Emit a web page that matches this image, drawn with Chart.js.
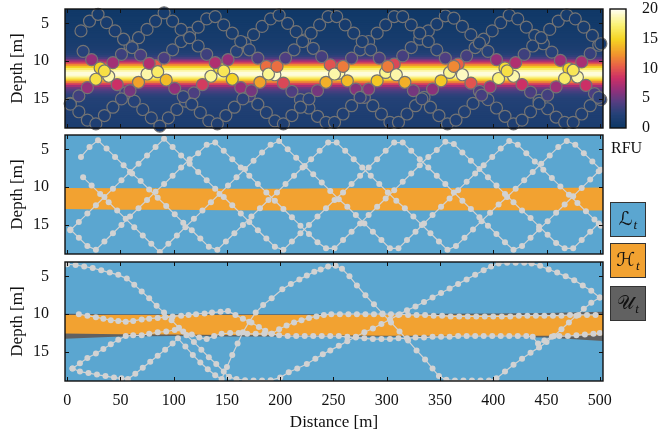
<!DOCTYPE html>
<html>
<head>
<meta charset="utf-8">
<script src="https://cdn.jsdelivr.net/npm/chart.js@4.4.1/dist/chart.umd.min.js"></script>
<style>
  body { margin: 0; width: 662px; height: 435px; position: relative; overflow: hidden; background: #fff;
         font-family: 'Liberation Serif', 'Times New Roman', serif; color: #111; }
  canvas { position: absolute; }
  .key { position: absolute; left: 610px; width: 36px; height: 35px; box-sizing: border-box;
         border: 1.4px solid #333; text-align: center; line-height: 31px; font-size: 19px; }
  .key .s { font-family: 'DejaVu Serif', 'DejaVu Sans', serif; }
  .key i { font-size: 13px; position: relative; top: 4px; margin-left: 1px; }
  #rfu { position: absolute; left: 611px; top: 139px; font-size: 16px; line-height: 18px; }
</style>
</head>
<body>
<canvas id="c1" width="662" height="140" style="left:0;top:0"></canvas>
<canvas id="c2" width="662" height="130" style="left:0;top:130px"></canvas>
<canvas id="c3" width="662" height="180" style="left:0;top:255px"></canvas>
<canvas id="c4" width="62" height="140" style="left:600px;top:0"></canvas>
<div id="rfu">RFU</div>
<div class="key" style="top:202px;background:#5ba6d0"><span class="s">ℒ</span><i>t</i></div>
<div class="key" style="top:243px;background:#f2a231"><span class="s">ℋ</span><i>t</i></div>
<div class="key" style="top:286px;background:#616161"><span class="s">𝒰</span><i>t</i></div>
<script>
// axes
const distanceTicks = [0, 50, 100, 150, 200, 250, 300, 350, 400, 450, 500];
const depthTicks = [5, 10, 15];
const rfuTicks = [0, 5, 10, 15, 20];

// yo-yo survey (panels 1 and 2): four vehicles
const distA = [13,21,29,37,45,53,61,69,77,85,93,101,109,117,125,133,141,149,157,165,173,181,189,197,205,213,221,229,237,245,253,261,269,277,285,293,301,309,317,325,333,341,349,357,365,373,381,389,397,405,413,421,429,437,445,453,461,469,477,485,493,501];
const depthA = [6.0,4.7,3.8,4.9,6.0,7.1,8.2,9.2,10.3,11.4,12.5,13.6,14.7,15.7,16.8,17.9,18.3,17.2,16.1,15.0,13.9,12.8,11.7,10.7,9.6,8.5,7.4,6.3,5.2,4.1,4.1,5.2,6.3,7.4,8.5,9.6,10.7,11.8,12.8,13.9,15.0,16.1,17.2,18.3,17.8,16.7,15.6,14.5,13.4,12.3,11.3,10.2,9.1,8.0,6.9,5.8,4.7,3.9,4.4,5.5,6.6,7.7];
const rfuA = [1.4,1.2,1.1,1.2,1.4,1.5,2.4,3.9,7.5,17,14,6.5,2.8,2.1,1.9,1.9,1.8,1.9,2.0,2.7,5.5,13,18,11,4.2,2.5,1.5,1.3,1.2,1.1,1.1,1.2,1.3,1.5,2.4,4.0,11.5,18.5,13.5,5.5,2.7,2.0,1.9,1.8,1.9,2.0,2.1,3.8,7,17.5,16,7.5,3.5,1.6,1.4,1.3,1.2,1.1,1.2,1.3,1.4,1.5];

const distBC = [3,11,19,27,35,43,51,59,67,75,83,91,99,107,115,123,131,139,147,155,163,171,179,187,195,203,211,219,227,235,243,251,259,267,275,283,291,299,307,315,323,331,339,347,355,363,371,379,387,395,403,411,419,427,435,443,451,459,467,475,483,491,499];
const depthB = [15.7,14.6,13.5,12.4,11.3,10.2,9.1,8.0,6.9,5.8,4.7,3.6,4.7,5.8,6.9,8.0,9.1,10.2,11.3,12.4,13.5,14.6,15.7,16.8,17.9,18.3,17.2,16.1,15.0,13.9,12.8,11.7,10.7,9.6,8.5,7.4,6.3,5.2,4.1,4.1,5.2,6.3,7.4,8.5,9.6,10.7,11.8,12.9,14.0,15.1,16.2,17.3,18.3,17.8,16.7,15.6,14.5,13.4,12.3,11.2,10.1,9.0,7.9];
const rfuB = [2.0,3.6,6.5,16,16,7,3.4,1.6,1.4,1.3,1.2,1.1,1.2,1.3,1.4,1.6,3.5,7.5,16.5,15,6.5,3.5,2.0,1.9,1.8,1.8,1.9,2.0,2.6,5.5,13.5,18.5,11.5,4.0,2.4,1.5,1.3,1.2,1.1,1.1,1.2,1.3,1.5,2.5,4.2,12,19,10,4.2,2.6,2.0,1.9,1.8,1.8,1.9,2.0,3.7,6.8,17,16.5,7.2,3.2,1.6];
const depthC = [15.6,16.7,17.8,18.3,17.2,16.1,15.0,13.9,12.8,11.7,10.6,9.6,8.5,7.4,6.3,5.5,4.4,4.1,5.2,6.3,7.4,8.5,9.6,10.7,11.8,12.9,14.0,15.1,16.2,17.3,18.1,18.1,17.0,15.9,14.8,13.7,12.6,11.5,10.4,9.3,8.2,7.1,6.0,5.1,4.0,4.3,5.4,6.5,7.6,8.7,9.8,10.9,12.0,13.1,14.1,15.2,16.3,17.4,18.1,18.1,17.0,15.9,14.8];
const rfuC = [2.0,1.9,1.8,1.8,1.9,2.0,2.7,5.5,13,18.5,10.5,4.0,2.5,1.5,1.3,1.2,1.1,1.1,1.2,1.3,1.5,2.4,4.1,11,19,9.5,4.2,2.6,2.0,1.9,1.8,1.8,1.9,2.0,2.8,6,14.5,18,9.5,3.8,2.3,1.5,1.3,1.2,1.1,1.1,1.2,1.4,1.5,2.5,6.5,15.5,18.5,8.5,4.0,2.6,2.0,1.9,1.8,1.8,1.9,2.0,2.8];

const distD = [15,23,31,39,47,55,63,71,79,87,95,103,111,119,127,135,143,151,159,167,175,183,191,199,207,215,223,231,239,247,255,263,271,279,287,295,303,311,319,327,335,343,351,359,367,375,383,391,399,407,415,423,431,439,447,455,463,471,479,487,495,501];
const depthD = [8.7,9.8,10.9,12.0,13.1,14.2,15.3,16.4,17.5,18.6,17.5,16.4,15.3,14.2,13.1,12.0,10.9,9.8,8.7,7.6,6.5,5.4,4.4,3.9,5.0,6.1,7.2,8.3,9.4,10.5,11.6,12.6,13.7,14.8,15.9,17.0,18.1,18.1,17.0,15.9,14.8,13.7,12.6,11.5,10.4,9.3,8.2,7.1,6.0,4.9,3.9,4.4,5.5,6.6,7.7,8.8,9.9,11.0,12.1,13.2,14.3,15.1];
const rfuD = [2.6,6.5,15,18.5,8.5,4.0,2.5,2.0,1.9,1.8,1.9,2.0,2.5,4.1,9,18,15.5,6.5,2.5,1.5,1.3,1.2,1.1,1.1,1.2,1.3,1.5,2.3,3.8,10,18.5,14,6,2.8,2.0,1.9,1.8,1.8,1.9,2.0,2.7,6.2,14.5,18,10.5,3.8,2.3,1.5,1.3,1.2,1.1,1.1,1.2,1.3,1.5,2.6,6.8,15,18.5,8.5,4.0,2.7];

// RFU field (panel 1), one value per depth row
const heatDepth = [3.125,3.375,3.625,3.875,4.125,4.375,4.625,4.875,5.125,5.375,5.625,5.875,6.125,6.375,6.625,6.875,7.125,7.375,7.625,7.875,8.125,8.375,8.625,8.875,9.125,9.375,9.625,9.875,10.125,10.375,10.625,10.875,11.125,11.375,11.625,11.875,12.125,12.375,12.625,12.875,13.125,13.375,13.625,13.875,14.125,14.375,14.625,14.875,15.125,15.375,15.625,15.875,16.125,16.375,16.625,16.875,17.125,17.375,17.625,17.875,18.125,18.375,18.625,18.875];
const heatRfu = [0.4,0.4,0.5,0.5,0.5,0.6,0.6,0.6,0.7,0.7,0.8,0.8,0.9,0.9,1.0,1.0,1.1,1.2,1.2,1.3,1.4,1.5,1.7,1.9,2.2,2.8,3.8,5.5,7.5,10,12.5,15,17,18.5,19.5,19.5,18.5,16.5,14,11.5,9,7,5.5,4.5,3.8,3.2,2.8,2.5,2.3,2.2,2.1,2.0,2.0,1.9,1.9,1.8,1.8,1.7,1.7,1.6,1.6,1.5,1.5,1.4];
const heatSpan = [-2, 503];

// region boundaries (panels 2 and 3)
const bandDist = [-2, 50, 100, 150, 200, 250, 300, 350, 400, 450, 503];
const hotTopMid = [10.1, 10.15, 10.15, 10.2, 10.2, 10.15, 10.1, 10.1, 10.15, 10.1, 10.05];
const hotBotMid = [12.9, 13.0, 13.0, 13.05, 13.1, 13.05, 13.1, 13.1, 13.05, 13.1, 13.1];
const uncTopLow = [9.95, 10.0, 10.0, 10.0, 10.0, 10.0, 9.95, 9.95, 9.9, 9.85, 9.7];
const hotTopLow = [10.1, 10.1, 10.1, 10.1, 10.1, 10.1, 10.1, 10.1, 10.1, 10.1, 10.1];
const hotBotLow = [12.55, 12.65, 12.7, 12.75, 12.8, 12.8, 12.85, 12.85, 12.85, 12.85, 12.8];
const uncBotLow = [13.25, 12.95, 12.9, 12.95, 12.95, 12.95, 13.0, 13.0, 13.0, 13.1, 13.55];

// adaptive survey (panel 3)
const adDist1 = [0,8,16,24,32,40,48,56,63,70,77,84,91,98,105,112,119,126,133,140,147,152,159,167,175,183,191,200,208,216,225,233,240,247,255,263,271,279,287,295,303,311,319,327,335,343,351,359,367,375,383,391,398,405,413,421,429,436,444,452,460,468,476,484,492,500];
const adDepth1 = [3.4,3.5,3.7,3.9,4.2,4.5,4.8,5.3,6.1,7.0,7.9,8.9,9.8,10.8,11.8,12.8,13.7,14.7,15.7,16.6,17.6,18.3,18.6,18.75,18.8,18.8,18.75,18.4,17.7,17.2,16.6,15.9,15.3,14.8,14.2,13.6,13.0,12.4,11.9,11.3,10.7,10.1,9.5,9.0,8.4,7.8,7.2,6.6,6.0,5.4,4.8,4.2,3.7,3.3,3.2,3.2,3.2,3.3,3.6,4.1,4.5,5.0,5.5,6.2,6.9,7.8];
const adDist2 = [11,19,27,34,41,48,55,62,70,77,85,92,99,107,114,121,129,136,144,151,158,165,173,180,186,192,199,207,215,223,231,239,247,255,263,271,279,287,295,303,311,319,327,335,343,351,359,367,375,383,391,399,407,415,423,431,437,442,448,455,462,470,478,486,494,500];
const adDepth2 = [10.0,10.2,10.4,10.6,10.8,10.9,11.0,10.9,10.7,10.6,10.5,10.4,10.3,10.2,10.1,10.0,9.9,9.8,9.7,9.6,10.1,10.6,11.1,11.7,12.2,12.6,12.8,12.9,12.9,12.9,12.9,12.9,12.9,12.9,13.0,13.1,13.2,13.3,13.3,13.3,13.2,13.2,13.1,13.1,13.0,13.0,13.0,12.9,12.9,12.9,12.9,12.9,12.9,12.9,12.9,12.9,13.0,13.9,13.5,13.0,12.9,12.9,12.8,12.7,12.6,12.5];
const adDist3 = [5,12,20,28,36,44,51,57,64,71,78,85,92,99,104,111,118,125,132,139,145,150,155,160,165,171,177,184,192,202,210,218,225,232,238,245,252,258,265,272,280,288,296,304,312,320,328,336,343,349,356,364,372,380,388,396,403,411,419,427,435,443,450,457,464,471,478,485,492,500];
const adDepth3 = [17.2,17.6,17.8,18.0,18.2,18.4,18.5,18.6,17.9,17.1,16.3,15.5,14.7,13.9,13.2,14.3,15.4,16.4,17.3,18.1,18.6,17.0,15.4,13.9,12.4,11.0,9.8,8.8,7.9,6.7,6.0,5.4,4.9,4.4,4.1,3.7,3.6,4.0,5.0,6.2,7.5,8.7,9.9,11.1,12.3,13.5,14.8,16.0,17.2,18.2,18.7,18.8,18.8,18.8,18.8,18.8,18.5,17.6,16.7,15.9,15.1,14.4,13.7,12.9,12.0,11.1,10.2,9.3,8.5,7.8];
const adDist4 = [5,12,19,27,34,41,48,55,62,70,77,85,93,101,109,117,124,131,138,145,153,161,169,177,185,192,199,206,213,220,227,234,241,248,256,264,272,280,288,296,304,312,320,328,336,344,352,360,368,376,384,392,400,408,416,424,432,440,448,456,464,472,480,488,496];
const adDepth4 = [17.2,16.5,15.8,15.2,14.6,14.0,13.4,12.9,12.8,12.8,12.6,12.4,12.3,12.1,12.3,12.7,13.1,13.3,12.9,12.6,12.5,12.5,12.6,12.6,12.6,12.6,12.0,11.5,11.1,10.8,10.5,10.3,10.1,10.0,10.0,10.0,10.0,10.0,10.0,10.0,10.0,10.0,10.1,10.1,10.1,10.2,10.2,10.3,10.3,10.3,10.3,10.3,10.3,10.3,10.3,10.2,10.2,10.2,10.2,10.2,10.2,10.1,10.1,10.1,10.1];

const BLUE = '#5ba6d0', ORANGE = '#f2a231', GREY = '#616161', TRACK = '#d2d2d2';

Chart.defaults.font.family = "'Liberation Serif', 'Times New Roman', serif";
Chart.defaults.color = '#111';

// colour map used for the RFU field
const stops = [[0,[12,55,100]],[2.5,[38,66,120]],[4.5,[86,62,130]],[6.5,[148,48,122]],[8.5,[204,48,102]],
  [10.5,[232,96,72]],[12.5,[240,150,45]],[15,[245,212,35]],[17.5,[250,242,120]],[20,[255,255,242]]];
function cmap(v) {
  for (let i = 1; i < stops.length; i++) {
    if (v <= stops[i][0] || i === stops.length - 1) {
      const [a, ca] = stops[i - 1], [b, cb] = stops[i];
      const t = Math.max(0, Math.min(1, (v - a) / (b - a)));
      return 'rgb(' + ca.map((c, k) => Math.round(c + (cb[k] - c) * t)).join(',') + ')';
    }
  }
}

const pts = (xs, ys) => xs.map((x, i) => ({x: x, y: ys[i]}));

function framePlugin(bg, xt, yt) {
  return {
    id: 'frame',
    beforeDatasetsDraw(chart) {
      if (!bg) return;
      const a = chart.chartArea, c = chart.ctx;
      c.save(); c.fillStyle = bg; c.fillRect(a.left, a.top, a.width, a.height); c.restore();
    },
    afterDraw(chart) {
      const a = chart.chartArea, c = chart.ctx;
      c.save();
      c.strokeStyle = '#111'; c.lineWidth = 1;
      c.beginPath();
      (xt || []).forEach(t => {
        const p = Math.round(chart.scales.x.getPixelForValue(t)) + 0.5;
        c.moveTo(p, a.top); c.lineTo(p, a.top + 4);
        c.moveTo(p, a.bottom); c.lineTo(p, a.bottom - 4);
      });
      (yt || []).forEach(t => {
        const p = Math.round(chart.scales.y.getPixelForValue(t)) + 0.5;
        c.moveTo(a.left, p); c.lineTo(a.left + 4, p);
        c.moveTo(a.right, p); c.lineTo(a.right - 4, p);
      });
      c.stroke();
      c.lineWidth = 1.4;
      c.strokeRect(a.left, a.top, a.width, a.height);
      c.restore();
    }
  };
}

function panelOptions(showX, pad) {
  return {
    responsive: false, animation: false, devicePixelRatio: 1,
    layout: {padding: {left: 0, right: 59, top: pad[0], bottom: pad[1]}},
    plugins: {legend: {display: false}, tooltip: {enabled: false}},
    scales: {
      x: {
        type: 'linear', min: -2, max: 503, display: showX, offset: false,
        grid: {display: false}, border: {display: false},
        afterBuildTicks: s => { s.ticks = distanceTicks.map(v => ({value: v})); },
        ticks: {font: {size: 16}, color: '#111', padding: 2, maxRotation: 0, autoSkip: false},
        title: {display: true, text: 'Distance [m]', font: {size: 17}, color: '#111', padding: {top: 0, bottom: 2}},
        afterFit: s => { if (showX) s.height = 54; }
      },
      y: {
        type: 'linear', min: 3.1, max: 18.85, reverse: true, offset: false,
        grid: {display: false}, border: {display: false},
        afterBuildTicks: s => { s.ticks = depthTicks.map(v => ({value: v})); },
        ticks: {font: {size: 16}, color: '#111', padding: 8},
        title: {display: true, text: 'Depth [m]', font: {size: 17}, color: '#111', padding: {top: 7, bottom: 0}},
        afterFit: s => { s.width = 65; s.paddingTop = 0; s.paddingBottom = 0; }
      }
    }
  };
}

function circles(xs, ys, vals) {
  return {
    type: 'scatter', data: pts(xs, ys), order: 1, clip: false,
    pointRadius: 6, pointHoverRadius: 6, pointBorderWidth: 1.2, pointBorderColor: '#747474',
    pointBackgroundColor: vals.map(cmap)
  };
}

function track(xs, ys) {
  return {
    type: 'line', data: pts(xs, ys), order: 1, fill: false, tension: 0,
    borderColor: TRACK, borderWidth: 1.2,
    pointRadius: 3, pointBorderWidth: 0, pointBackgroundColor: TRACK
  };
}

function band(xs, ys, color, fill, order) {
  return {
    type: 'line', data: pts(xs, ys), order: order, tension: 0,
    borderWidth: 0, pointRadius: 0, fill: fill, backgroundColor: color, borderColor: color
  };
}

// panel 1: RFU field with the sampled values
new Chart(document.getElementById('c1'), {
  type: 'scatter',
  data: {datasets: [
    circles(distA, depthA, rfuA),
    circles(distBC, depthB, rfuB),
    circles(distBC, depthC, rfuC),
    circles(distD, depthD, rfuD),
    {
      type: 'bar', indexAxis: 'y', order: 10,
      data: heatDepth.map(d => ({y: d, x: heatSpan})),
      backgroundColor: heatRfu.map(cmap),
      barPercentage: 1, categoryPercentage: 1, borderWidth: 0, inflateAmount: 0.6
    }
  ]},
  options: panelOptions(false, [9, 12]),
  plugins: [framePlugin(null, distanceTicks, depthTicks)]
});

// panel 2: classification with the yo-yo survey
new Chart(document.getElementById('c2'), {
  type: 'scatter',
  data: {datasets: [
    band(bandDist, hotTopMid, ORANGE, '+1', 6),
    band(bandDist, hotBotMid, ORANGE, false, 6),
    track(distA, depthA),
    track(distBC, depthB),
    track(distBC, depthC),
    track(distD, depthD)
  ]},
  options: panelOptions(false, [5, 6]),
  plugins: [framePlugin(BLUE, distanceTicks, depthTicks)]
});

// panel 3: classification with the adaptive survey
new Chart(document.getElementById('c3'), {
  type: 'scatter',
  data: {datasets: [
    band(bandDist, uncTopLow, GREY, '+1', 8),
    band(bandDist, uncBotLow, GREY, false, 8),
    band(bandDist, hotTopLow, ORANGE, '+1', 6),
    band(bandDist, hotBotLow, ORANGE, false, 6),
    track(adDist1, adDepth1),
    track(adDist2, adDepth2),
    track(adDist3, adDepth3),
    track(adDist4, adDepth4)
  ]},
  options: panelOptions(true, [7, 0]),
  plugins: [framePlugin(BLUE, distanceTicks, depthTicks)]
});

// colour bar
const cbCells = [];
for (let v = 0; v < 20; v += 0.25) cbCells.push(v + 0.125);
new Chart(document.getElementById('c4'), {
  type: 'scatter',
  data: {datasets: [{
    type: 'bar', indexAxis: 'y',
    data: cbCells.map(v => ({y: v, x: [0, 1]})),
    backgroundColor: cbCells.map(cmap),
    barPercentage: 1, categoryPercentage: 1, borderWidth: 0, inflateAmount: 0.6
  }]},
  options: {
    responsive: false, animation: false, devicePixelRatio: 1,
    layout: {padding: {left: 10, right: 0, top: 9, bottom: 12}},
    plugins: {legend: {display: false}, tooltip: {enabled: false}},
    scales: {
      x: {type: 'linear', min: 0, max: 1, display: false, offset: false},
      y: {
        type: 'linear', position: 'right', min: 0, max: 20, offset: false,
        grid: {display: false}, border: {display: false},
        afterBuildTicks: s => { s.ticks = rfuTicks.map(v => ({value: v})); },
        ticks: {font: {size: 16}, color: '#111', padding: 8},
        afterFit: s => { s.width = 36; s.paddingTop = 0; s.paddingBottom = 0; }
      }
    }
  },
  plugins: [framePlugin(null, null, null)]
});
</script>
</body>
</html>
